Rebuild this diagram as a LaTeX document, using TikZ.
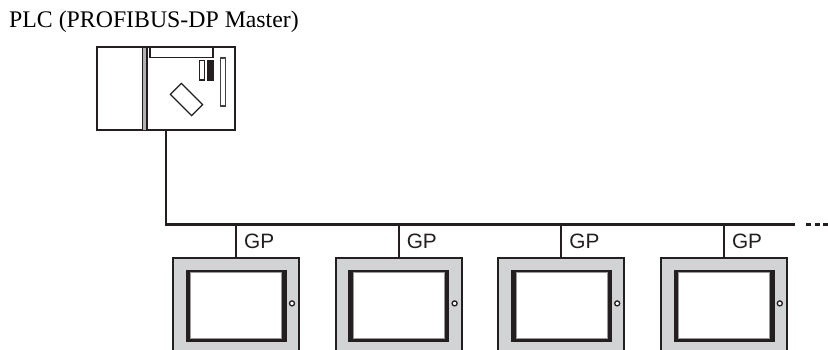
\documentclass[tikz,border=0pt]{standalone}
\usepackage{fontspec}
\setmainfont{Liberation Serif}
\newfontfamily\gpfont{Liberation Sans}
\definecolor{ink}{HTML}{231F20}
\definecolor{panel}{HTML}{D1D3D4}
\tikzset{
  x=1pt,y=-1pt,
  plcbody/.style={draw=ink,line width=2pt,fill=white,inner sep=0pt,minimum width=138pt,minimum height=82.5pt},
  part/.style={draw=ink,line width=1.5pt,fill=white,inner sep=0pt},
  blackpart/.style={draw=ink,fill=ink,inner sep=0pt,minimum width=6pt,minimum height=20pt},
  bus/.style={draw=ink,line width=2.8pt},
  drop/.style={draw=ink,line width=1.9pt},
  gpbody/.style={draw=ink,line width=2pt,fill=panel,inner sep=0pt,minimum width=126pt,minimum height=110pt},
  gpframe/.style={draw=ink,fill=ink,inner sep=0pt,minimum width=100pt,minimum height=71.5pt},
  gpscreen/.style={draw=black!40,line width=0.6pt,fill=white,inner sep=0pt,minimum width=91pt,minimum height=66pt},
  gplamp/.style={circle,draw=ink,line width=1.3pt,fill=white,inner sep=0pt,minimum size=5pt},
  gplabel/.style={font=\gpfont\fontsize{20.8}{20.8}\selectfont,text=ink,inner sep=0pt,anchor=base west},
  title/.style={font=\fontsize{23.8}{23.8}\selectfont,text=black,inner sep=0pt,anchor=base west}
}
\begin{document}
\begin{tikzpicture}
\useasboundingbox (0,0) rectangle (828,349);
\clip (0,0) rectangle (828,349);
\node[title] (t) at (9,27) {PLC (PROFIBUS-DP Master)};
% PLC
\node[plcbody] (plc) at (165.7,88.5) {};
\draw[ink,line width=2pt] (147.2,47.5) -- (147.2,130);
\fill[black!30] (143,47.5) rectangle (146,130);
\draw[ink,line width=0.9pt] (142.5,47.5) -- (142.5,130);
\node[part,minimum width=63pt,minimum height=10.5pt] (topbar) at (181.3,52.4) {};
\node[part,minimum width=5pt,minimum height=19.5pt] (slot) at (201.9,70.3) {};
\node[blackpart] (blk) at (210,70.3) {};
\node[part,draw=ink!85,minimum width=5pt,minimum height=48pt] (tall) at (222.9,82.2) {};
\node[part,line width=1.2pt,minimum width=30pt,minimum height=15.5pt,rotate=-45] (chip) at (186.5,99.5) {};
% bus
\coordinate (busend) at (795,224.3);
\coordinate (plcout) at (166,224.3);
\draw[bus] (plc.south -| plcout) -- (plcout) -- (busend);
\coordinate (dotsa) at (806,224.3);
\coordinate (dotsb) at (828,224.3);
\draw[ink,line width=2.8pt,dash pattern=on 5pt off 3.5pt] (dotsa) -- (dotsb);
% GP units
\foreach \i/\xc in {1/236.2,2/398.8,3/561.4,4/724}{
  \node[gpbody] (gp\i) at (\xc,312.7) {};
  \node[gpframe] (frame\i) at (\xc-0.2,305.9) {};
  \node[gpscreen] (screen\i) at (\xc,305.3) {};
  \node[gplamp] (lamp\i) at (\xc+55.8,303.4) {};
  \coordinate (tap\i) at (\xc,224.3);
  \draw[drop] (tap\i) -- (gp\i.north);
  \node[gplabel] (label\i) at (\xc+7.8,248) {GP};
}
\end{tikzpicture}
\end{document}
